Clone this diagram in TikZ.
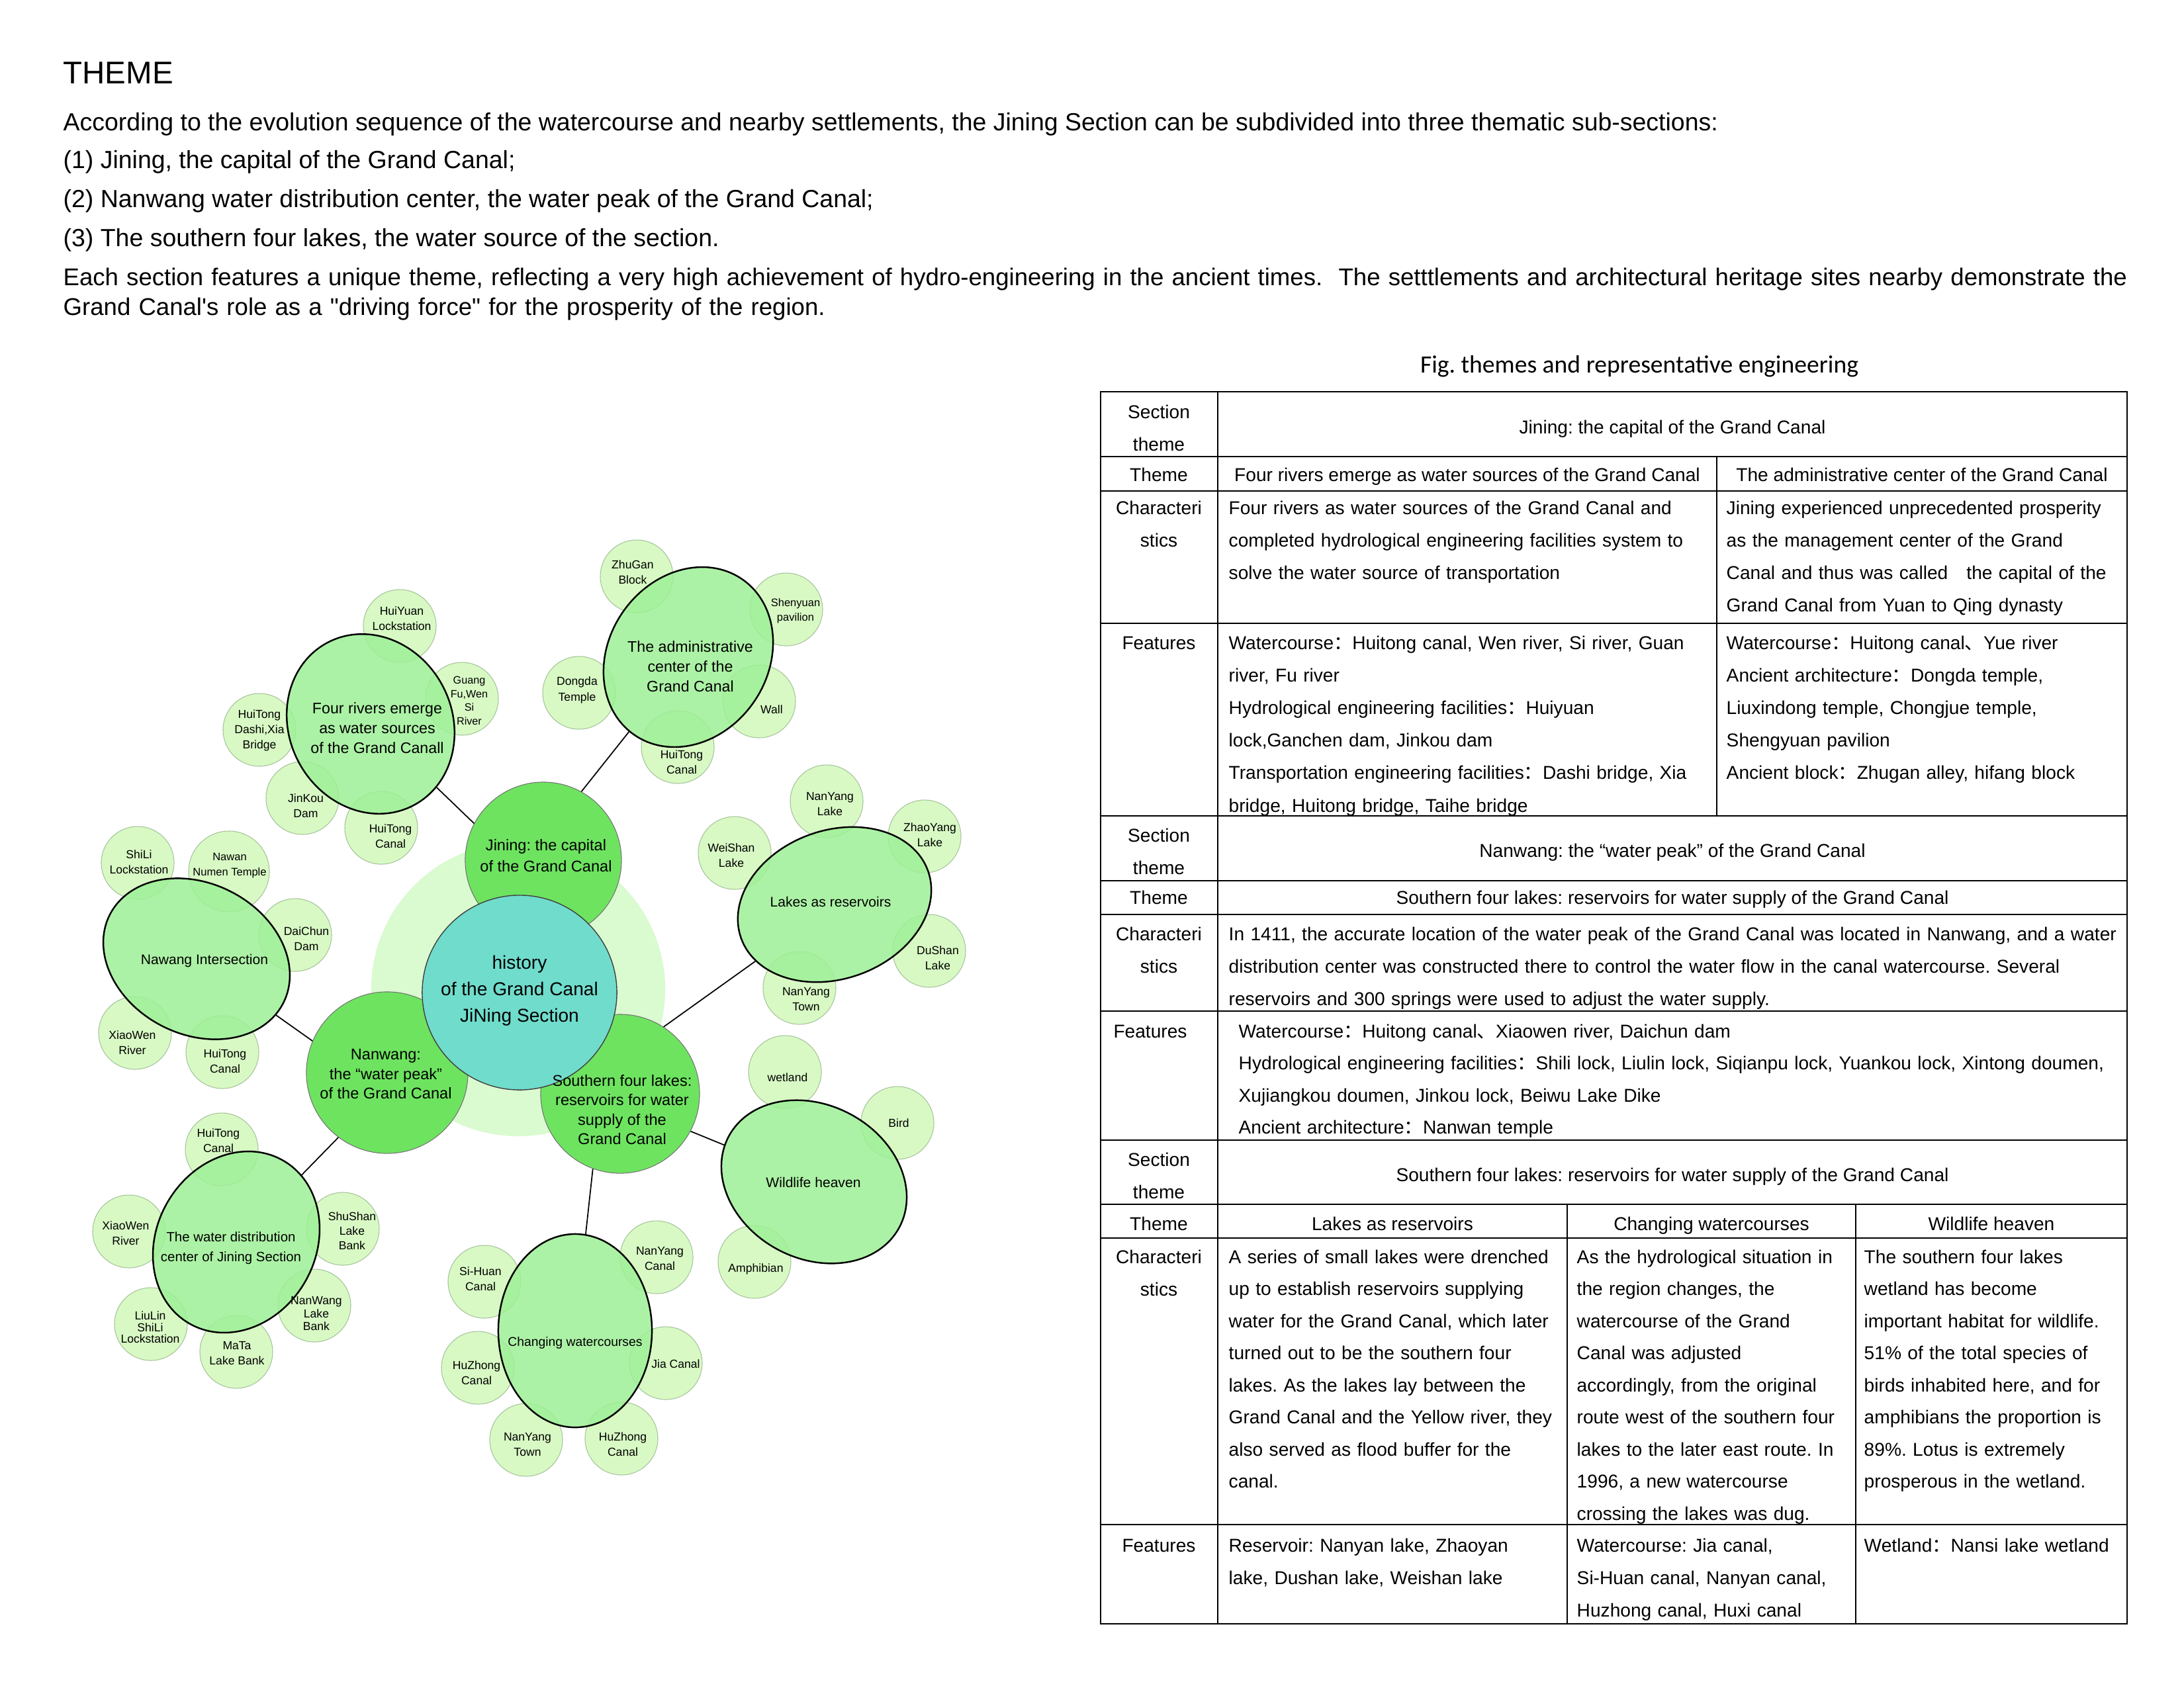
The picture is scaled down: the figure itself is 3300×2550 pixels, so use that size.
\documentclass[tikz,border=0pt]{standalone}
\usepackage{fontspec}
\setmainfont{Liberation Sans}
\newfontfamily\capfont{Carlito}
\newfontfamily\cjkfont{Noto Sans CJK SC}
\usetikzlibrary{positioning, shapes.geometric}
\definecolor{palebg}{RGB}{218,250,208}
\definecolor{hubgreen}{RGB}{110,227,96}
\definecolor{histteal}{RGB}{112,220,204}
\definecolor{subgreen}{RGB}{158,240,150}
\definecolor{leafgreen}{RGB}{212,248,190}
\definecolor{leafedge}{RGB}{165,195,155}
\newcommand{\zcolon}{{\cjkfont ：}}
\newcommand{\zcomma}{{\cjkfont 、}}
\frenchspacing

\begin{document}
\begin{tikzpicture}[x=0.01cm, y=-0.01cm,
    hub/.style={circle, draw=black!55, line width=0.3pt, fill=hubgreen, inner sep=0pt},
    hist/.style={circle, draw=black!75, line width=0.4pt, fill=histteal, inner sep=0pt, minimum size=2.94cm},
    subell/.style={ellipse, draw=black, line width=0.7pt, fill=subgreen, fill opacity=0.85, inner sep=0pt},
    leaf/.style={circle, draw=leafedge, line width=0.3pt, fill=leafgreen, fill opacity=0.9, inner sep=0pt, minimum size=1.1cm},
    leaftxt/.style={align=center, inner sep=0pt, font=\fontsize{5}{6.6}\selectfont},
    hubtxt/.style={align=center, inner sep=0pt, font=\fontsize{6.7}{8.4}\selectfont},
    subtxt/.style={align=center, inner sep=0pt, font=\fontsize{6}{8.5}\selectfont},
    link/.style={black, line width=0.5pt},
    para/.style={anchor=base west, inner sep=0pt, font=\fontsize{10.65}{13}\selectfont},
    tabline/.style={line width=0.6pt},
    cell/.style={anchor=base, inner sep=0pt, font=\fontsize{8}{14}\selectfont},
    cellhd/.style={cell, text width=1.7cm, align=center},
    celltxt/.style={cell, anchor=base west, text width=14cm, align=left},
  ]
  \useasboundingbox (0,0) rectangle (3300,2550);

  % heading and intro
  \node[para, font=\fontsize{13.5}{16}\selectfont] (heading) at (95,126) {THEME};
  \node[para] (intro) at (95,197) {According to the evolution sequence of the watercourse and nearby settlements, the Jining Section can be subdivided into three thematic sub-sections:};
  \node[para] (item1) at (95,254) {(1) Jining, the capital of the Grand Canal;};
  \node[para] (item2) at (95,313) {(2) Nanwang water distribution center, the water peak of the Grand Canal;};
  \node[para] (item3) at (95,372) {(3) The southern four lakes, the water source of the section.};
  \node[para, font=\fontsize{10.4}{13}\selectfont, text width=32cm, align=left] (closing) at (95,431) {Each section features a unique theme, reflecting a very high achievement of hydro-engineering in the ancient times.\ \ The setttlements and architectural heritage sites nearby demonstrate the\\Grand Canal\textquotesingle s role as a \textquotedbl driving force\textquotedbl{} for the prosperity of the region.};

  % bubble diagram: centre and hubs
  \node[circle, fill=palebg, inner sep=0pt, minimum size=4.44cm] (halo) at (783,1495) {};
  \node[hub, minimum size=2.36cm] (jining) at (821,1300) {};
  \node[hub, minimum size=2.44cm] (nanwang) at (585,1621) {};
  \node[hub, minimum size=2.40cm] (southern) at (937,1653) {};
  \node[hist] (history) at (785,1500) {};

  % leaves
  \node[leaf] (huiyuan) at (604,946) {};
  \node[leaf] (guangfu) at (698,1056) {};
  \node[leaf] (dashi) at (392,1103) {};
  \node[leaf] (jinkou) at (457,1206) {};
  \node[leaf] (htcanalA) at (576,1251) {};
  \node[leaf] (zhugan) at (962,871) {};
  \node[leaf] (shenyuan) at (1188,921) {};
  \node[leaf] (dongda) at (875,1047) {};
  \node[leaf] (wall) at (1147,1060) {};
  \node[leaf] (htcanalB) at (1024,1129) {};
  \node[leaf] (shili) at (208,1304) {};
  \node[leaf, minimum size=1.22cm] (numen) at (346,1317) {};
  \node[leaf] (daichun) at (446,1413) {};
  \node[leaf] (xiaowenA) at (204,1561) {};
  \node[leaf] (htcanalC) at (336,1590) {};
  \node[leaf] (htcanalD) at (335,1737) {};
  \node[leaf] (xiaowenB) at (195,1861) {};
  \node[leaf] (shushan) at (518,1857) {};
  \node[leaf] (nanwanglb) at (475,1973) {};
  \node[leaf] (liulin) at (228,2001) {};
  \node[leaf] (mata) at (357,2043) {};
  \node[leaf] (nylake) at (1249,1211) {};
  \node[leaf] (weishan) at (1110,1289) {};
  \node[leaf] (zhaoyang) at (1397,1264) {};
  \node[leaf] (dushan) at (1404,1437) {};
  \node[leaf] (nytownA) at (1208,1493) {};
  \node[leaf] (nycanal) at (992,1900) {};
  \node[leaf] (sihuan) at (732,1937) {};
  \node[leaf] (huzhongA) at (722,2067) {};
  \node[leaf] (jia) at (1006,2060) {};
  \node[leaf] (nytownB) at (795,2176) {};
  \node[leaf] (huzhongB) at (939,2174) {};
  \node[leaf] (wetland) at (1186,1620) {};
  \node[leaf] (bird) at (1356,1697) {};
  \node[leaf] (amphib) at (1140,1907) {};

  % theme ellipses
  \node[subell, minimum width=2.78cm, minimum height=2.46cm, rotate=118] (fourriv) at (560,1094) {};
  \node[subell, minimum width=2.86cm, minimum height=2.40cm, rotate=55] (admin) at (1040,993) {};
  \node[subell, minimum width=2.94cm, minimum height=2.28cm, rotate=-27] (nawang) at (297,1449) {};
  \node[subell, minimum width=2.84cm, minimum height=2.40cm, rotate=60] (waterdist) at (357,1877) {};
  \node[subell, minimum width=3.00cm, minimum height=2.24cm, rotate=20] (lakes) at (1261,1367) {};
  \node[subell, minimum width=2.32cm, minimum height=2.92cm] (changing) at (869,2011) {};
  \node[subell, minimum width=2.92cm, minimum height=2.32cm, rotate=-28] (wildlife) at (1230,1786) {};

  % links
  \draw[link] (jining.152) -- (fourriv);
  \draw[link] (jining.61) -- (admin);
  \draw[link] (nanwang.157) -- (nawang);
  \draw[link] (nanwang.233) -- (waterdist);
  \draw[link] (southern.57) -- (lakes);
  \draw[link] (southern.-28) -- (wildlife);
  \draw[link] (southern.250) -- (changing);

  % hub and theme labels
  \node[hubtxt, font=\fontsize{6.7}{9}\selectfont] (jining-t) at (825,1293) {Jining: the capital\\of the Grand Canal};
  \node[hubtxt] (nanwang-t) at (583,1623) {Nanwang:\\the “water peak”\\of the Grand Canal};
  \node[hubtxt] (southern-t) at (940,1677) {Southern four lakes:\\reservoirs for water\\supply of the\\Grand Canal};
  \node[hubtxt, font=\fontsize{8}{11.4}\selectfont] (history-t) at (785,1497) {history\\of the Grand Canal\\JiNing Section};
  \node[subtxt, font=\fontsize{6.6}{8.5}\selectfont] (fourriv-t) at (570,1100) {Four rivers emerge\\as water sources\\of the Grand Canall};
  \node[subtxt, font=\fontsize{6.6}{8.5}\selectfont] (admin-t) at (1043,1007) {The administrative\\center of the\\Grand Canal};
  \node[subtxt] (nawang-t) at (309,1452) {Nawang Intersection};
  \node[subtxt, font=\fontsize{5.8}{8.4}\selectfont] (waterdist-t) at (349,1886) {The water distribution\\center of Jining Section};
  \node[subtxt] (lakes-t) at (1255,1363) {Lakes as reservoirs};
  \node[subtxt, font=\fontsize{5.5}{7}\selectfont] (changing-t) at (869,2029) {Changing watercourses};
  \node[subtxt] (wildlife-t) at (1229,1787) {Wildlife heaven};

  % leaf labels
  \node[leaftxt] (huiyuan-t) at (607,935) {HuiYuan\\Lockstation};
  \node[leaftxt, font=\fontsize{4.6}{5.9}\selectfont] (guangfu-t) at (709,1059) {Guang\\Fu,Wen\\Si\\River};
  \node[leaftxt] (dashi-t) at (392,1104) {HuiTong\\Dashi,Xia\\Bridge};
  \node[leaftxt] (jinkou-t) at (462,1218) {JinKou\\Dam};
  \node[leaftxt] (htcanalA-t) at (590,1264) {HuiTong\\Canal};
  \node[leaftxt] (zhugan-t) at (956,865) {ZhuGan\\Block};
  \node[leaftxt, font=\fontsize{4.7}{6.2}\selectfont] (shenyuan-t) at (1202,923) {Shenyuan\\pavilion};
  \node[leaftxt] (dongda-t) at (872,1043) {Dongda\\Temple};
  \node[leaftxt] (wall-t) at (1166,1072) {Wall};
  \node[leaftxt] (htcanalB-t) at (1030,1152) {HuiTong\\Canal};
  \node[leaftxt] (shili-t) at (210,1303) {ShiLi\\Lockstation};
  \node[leaftxt, font=\fontsize{4.7}{6.6}\selectfont] (numen-t) at (347,1308) {Nawan\\Numen Temple};
  \node[leaftxt] (daichun-t) at (463,1419) {DaiChun\\Dam};
  \node[leaftxt] (xiaowenA-t) at (200,1576) {XiaoWen\\River};
  \node[leaftxt] (htcanalC-t) at (340,1604) {HuiTong\\Canal};
  \node[leaftxt] (htcanalD-t) at (330,1724) {HuiTong\\Canal};
  \node[leaftxt] (xiaowenB-t) at (190,1864) {XiaoWen\\River};
  \node[leaftxt, font=\fontsize{5}{6.2}\selectfont] (shushan-t) at (532,1860) {ShuShan\\Lake\\Bank};
  \node[leaftxt, font=\fontsize{5}{5.5}\selectfont] (nanwanglb-t) at (478,1985) {NanWang\\Lake\\Bank};
  \node[leaftxt, font=\fontsize{5}{5}\selectfont] (liulin-t) at (227,2006) {LiuLin\\ShiLi\\Lockstation};
  \node[leaftxt] (mata-t) at (358,2045) {MaTa\\Lake Bank};
  \node[leaftxt] (nylake-t) at (1254,1215) {NanYang\\Lake};
  \node[leaftxt] (weishan-t) at (1105,1293) {WeiShan\\Lake};
  \node[leaftxt] (zhaoyang-t) at (1405,1262) {ZhaoYang\\Lake};
  \node[leaftxt] (dushan-t) at (1417,1448) {DuShan\\Lake};
  \node[leaftxt] (nytownA-t) at (1218,1510) {NanYang\\Town};
  \node[leaftxt] (nycanal-t) at (997,1902) {NanYang\\Canal};
  \node[leaftxt] (sihuan-t) at (726,1933) {Si-Huan\\Canal};
  \node[leaftxt] (huzhongA-t) at (720,2075) {HuZhong\\Canal};
  \node[leaftxt] (jia-t) at (1021,2061) {Jia Canal};
  \node[leaftxt] (nytownB-t) at (797,2183) {NanYang\\Town};
  \node[leaftxt] (huzhongB-t) at (941,2183) {HuZhong\\Canal};
  \node[leaftxt] (wetland-t) at (1190,1628) {wetland};
  \node[leaftxt] (bird-t) at (1358,1697) {Bird};
  \node[leaftxt] (amphib-t) at (1142,1918) {Amphibian};

  % table
  \node[anchor=base, inner sep=0pt, font=\capfont\fontsize{10.7}{13}\selectfont] (figcap) at (2477,563) {Fig. themes and representative engineering};
  \draw[tabline] (1663,592) rectangle (3214,2454);
  \foreach \yy in {690,742,942,1233,1331,1382,1528,1723,1820,1871,2304}
    \draw[tabline] (1663,\yy) -- (3214,\yy);
  \draw[tabline] (1840,592) -- (1840,2454);
  \draw[tabline] (2594,690) -- (2594,1233);
  \draw[tabline] (2368,1820) -- (2368,2454);
  \draw[tabline] (2804,1820) -- (2804,2454);

  % section 1
  \node[cellhd] (s1-head) at (1751,632) {Section\\theme};
  \node[cell] (s1-title) at (2527,655) {Jining: the capital of the Grand Canal};
  \node[cellhd] (s1-theme) at (1751,727) {Theme};
  \node[cell] (s1-themeA) at (2217,727) {Four rivers emerge as water sources of the Grand Canal};
  \node[cell] (s1-themeB) at (2904,727) {The administrative center of the Grand Canal};
  \node[cellhd] (s1-char) at (1751,777) {Characteri\\stics};
  \node[celltxt] (s1-charA) at (1856,777) {Four rivers as water sources of the Grand Canal and\\completed hydrological engineering facilities system to\\solve the water source of transportation};
  \node[celltxt] (s1-charB) at (2608,777) {Jining experienced unprecedented prosperity\\as the management center of the Grand\\Canal and thus was called\quad the capital of the\\Grand Canal from Yuan to Qing dynasty};
  \node[cellhd] (s1-feat) at (1751,981) {Features};
  \node[celltxt] (s1-featA) at (1856,981) {Watercourse\zcolon Huitong canal, Wen river, Si river, Guan\\river, Fu river\\Hydrological engineering facilities\zcolon Huiyuan\\lock,Ganchen dam, Jinkou dam\\Transportation engineering facilities\zcolon Dashi bridge, Xia\\bridge, Huitong bridge, Taihe bridge};
  \node[celltxt] (s1-featB) at (2608,981) {Watercourse\zcolon Huitong canal\zcomma Yue river\\Ancient architecture\zcolon Dongda temple,\\Liuxindong temple, Chongjue temple,\\Shengyuan pavilion\\Ancient block\zcolon Zhugan alley, hifang block};

  % section 2
  \node[cellhd] (s2-head) at (1751,1272) {Section\\theme};
  \node[cell] (s2-title) at (2527,1295) {Nanwang: the “water peak” of the Grand Canal};
  \node[cellhd] (s2-theme) at (1751,1366) {Theme};
  \node[cell] (s2-themeA) at (2527,1366) {Southern four lakes: reservoirs for water supply of the Grand Canal};
  \node[cellhd] (s2-char) at (1751,1421) {Characteri\\stics};
  \node[celltxt] (s2-charA) at (1856,1421) {In 1411, the accurate location of the water peak of the Grand Canal was located in Nanwang, and a water\\distribution center was constructed there to control the water flow in the canal watercourse. Several\\reservoirs and 300 springs were used to adjust the water supply.};
  \node[cellhd] (s2-feat) at (1738,1568) {Features};
  \node[celltxt, font=\fontsize{8}{13.8}\selectfont] (s2-featA) at (1871,1568) {Watercourse\zcolon Huitong canal\zcomma Xiaowen river, Daichun dam\\Hydrological engineering facilities\zcolon Shili lock, Liulin lock, Siqianpu lock, Yuankou lock, Xintong doumen,\\Xujiangkou doumen, Jinkou lock, Beiwu Lake Dike\\Ancient architecture\zcolon Nanwan temple};

  % section 3
  \node[cellhd] (s3-head) at (1751,1762) {Section\\theme};
  \node[cell] (s3-title) at (2527,1785) {Southern four lakes: reservoirs for water supply of the Grand Canal};
  \node[cellhd] (s3-theme) at (1751,1859) {Theme};
  \node[cell] (s3-themeA) at (2104,1859) {Lakes as reservoirs};
  \node[cell] (s3-themeB) at (2586,1859) {Changing watercourses};
  \node[cell] (s3-themeC) at (3009,1859) {Wildlife heaven};
  \node[cellhd] (s3-char) at (1751,1909) {Characteri\\stics};
  \node[celltxt, font=\fontsize{8}{13.8}\selectfont] (s3-charA) at (1856,1909) {A series of small lakes were drenched\\up to establish reservoirs supplying\\water for the Grand Canal, which later\\turned out to be the southern four\\lakes. As the lakes lay between the\\Grand Canal and the Yellow river, they\\also served as flood buffer for the\\canal.};
  \node[celltxt, font=\fontsize{8}{13.8}\selectfont] (s3-charB) at (2382,1909) {As the hydrological situation in\\the region changes, the\\watercourse of the Grand\\Canal was adjusted\\accordingly, from the original\\route west of the southern four\\lakes to the later east route. In\\1996, a new watercourse\\crossing the lakes was dug.};
  \node[celltxt, font=\fontsize{8}{13.8}\selectfont] (s3-charC) at (2816,1909) {The southern four lakes\\wetland has become\\important habitat for wildlife.\\51\% of the total species of\\birds inhabited here, and for\\amphibians the proportion is\\89\%. Lotus is extremely\\prosperous in the wetland.};
  \node[cellhd] (s3-feat) at (1751,2345) {Features};
  \node[celltxt] (s3-featA) at (1856,2345) {Reservoir: Nanyan lake, Zhaoyan\\lake, Dushan lake, Weishan lake};
  \node[celltxt] (s3-featB) at (2382,2345) {Watercourse: Jia canal,\\Si-Huan canal, Nanyan canal,\\Huzhong canal, Huxi canal};
  \node[celltxt] (s3-featC) at (2816,2345) {Wetland\zcolon Nansi lake wetland};
\end{tikzpicture}
\end{document}
